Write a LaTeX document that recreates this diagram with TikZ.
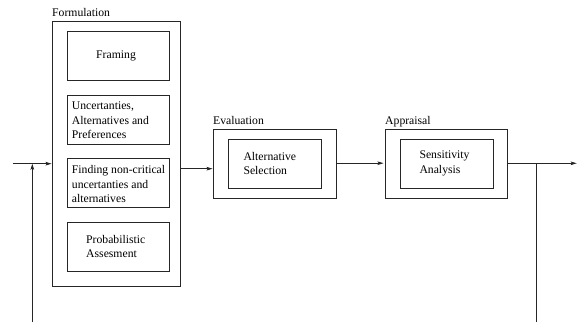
\documentclass[tikz,border=0pt]{standalone}
\usepackage{fontspec}
\setmainfont{Liberation Serif}
\usetikzlibrary{arrows.meta}
\begin{document}
\begin{tikzpicture}[x=1pt,y=-1pt,
  box/.style={draw=black!85, line width=0.9pt, inner sep=0pt, minimum width=#1},
  outer/.style={box=#1},
  txt/.style={anchor=west, inner sep=0pt, align=left, font=\fontsize{11.7}{14.5}\selectfont},
  lbl/.style={anchor=base west, inner sep=0pt, font=\fontsize{11.7}{14}\selectfont},
  flow/.style={draw=black!85, line width=0.8pt, -{Stealth[length=6pt,width=3.6pt,inset=1.2pt]}},
  line/.style={draw=black!85, line width=0.8pt}]
\useasboundingbox (0,0) rectangle (578,324);
% Formulation
\node[outer=128pt, minimum height=265pt] (form) at (116,154) {};
\node[lbl] (formlbl) at (52,16.7) {Formulation};
\node[box=102.7pt, minimum height=49pt] (framing) at (118.3,55.5) {};
\node[box=102.7pt, minimum height=49pt] (uncert) at (118.3,119.5) {};
\node[box=102.7pt, minimum height=49pt] (finding) at (118.3,183) {};
\node[box=102.7pt, minimum height=49pt] (prob) at (118.3,246.8) {};
\node[txt] (t1) at (96,56) {Framing};
\node[txt] (t2) at (71.7,120.5) {Uncertanties,\\Alternatives and\\Preferences};
\node[txt] (t3) at (71.7,184) {Finding non-critical\\uncertanties and\\alternatives};
\node[txt] (t4) at (86,246.5) {Probabilistic\\Assesment};
% Evaluation
\node[outer=123pt, minimum height=69pt] (eval) at (274.5,163.5) {};
\node[lbl] (evallbl) at (213,124) {Evaluation};
\node[box=93pt, minimum height=49pt] (altsel) at (274.5,163.5) {};
\node[txt] (t5) at (243.3,163.5) {Alternative\\Selection};
% Appraisal
\node[outer=122.7pt, minimum height=69pt] (appr) at (446.3,163.8) {};
\node[lbl] (apprlbl) at (385,124) {Appraisal};
\node[box=93pt, minimum height=49pt] (sens) at (446.5,163.5) {};
\node[txt] (t6) at (419.3,163.5) {Sensitivity\\Analysis};
% connectors
\coordinate (in) at (12.7,163.7);
\coordinate (fbl) at (32.3,322);
\coordinate (fbltop) at (32.3,163.7);
\coordinate (out) at (576.7,163.3);
\coordinate (fbr) at (536.7,163.3);
\coordinate (fbrbot) at (536.7,322);
\draw[flow] (in) -- (in -| form.west);
\draw[flow] (fbl) -- (fbltop);
\draw[flow] (form.east |- 0,168.7) -- (eval.west |- 0,168.7);
\draw[flow] (eval.east |- 0,163.2) -- ([xshift=-1pt]appr.west |- 0,163.2);
\draw[flow] (appr.east |- out) -- (out);
\draw[line] (fbr) -- (fbrbot);
\end{tikzpicture}
\end{document}
